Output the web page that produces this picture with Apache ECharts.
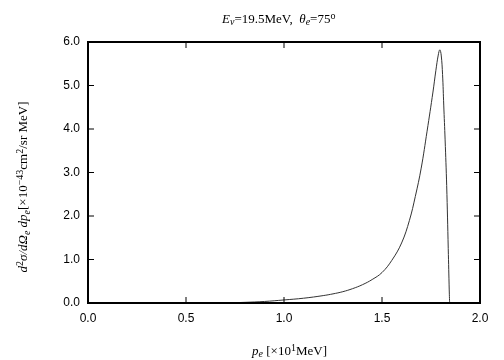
<!DOCTYPE html>
<html><head><meta charset="utf-8">
<script src="https://cdn.jsdelivr.net/npm/echarts@6/dist/echarts.min.js"></script>
<style>html,body{margin:0;padding:0;background:#fff}#c{width:504px;height:360px}</style>
</head><body><div id="c"></div>
<script>
const pe = [0.70,0.80,0.90,1.00,1.10,1.20,1.25,1.30,1.35,1.40,1.45,1.50,1.55,1.60,1.64,1.67,1.70,1.73,1.76,1.775,1.787,1.795,1.802,1.809,1.815,1.822,1.830,1.838,1.843,1.845];
const xs = [0.00,0.015,0.035,0.07,0.11,0.17,0.21,0.26,0.33,0.42,0.54,0.70,0.98,1.38,1.90,2.45,3.10,3.95,4.85,5.35,5.70,5.82,5.70,5.25,4.55,3.75,2.70,1.25,0.30,0.00];
const xTicks = [0.0,0.5,1.0,1.5,2.0];
const yTicks = [0.0,1.0,2.0,3.0,4.0,5.0,6.0];
const data = pe.map((v,i)=>[v,xs[i]]);
const chart = echarts.init(document.getElementById('c'));
const serif = 'Liberation Serif';
const rich = {
  i:{fontFamily:serif,fontStyle:'italic',fontSize:13,color:'#000'},
  n:{fontFamily:serif,fontSize:13,color:'#000'},
  sub:{fontFamily:serif,fontStyle:'italic',fontSize:10,color:'#000',padding:[6,0,0,0]},
  sup:{fontFamily:serif,fontSize:10,color:'#000',padding:[0,0,7,0]}
};
chart.setOption({
  animation:false,
  grid:{left:88,right:24,top:42,bottom:57},
  xAxis:{type:'value',min:0,max:2,interval:0.5,
    axisLine:{show:false},axisTick:{show:false},splitLine:{show:false},
    axisLabel:{fontFamily:'Liberation Sans',fontSize:12,color:'#000',margin:10,formatter:v=>v.toFixed(1)}},
  yAxis:{type:'value',min:0,max:6,interval:1,
    axisLine:{show:false},axisTick:{show:false},splitLine:{show:false},
    axisLabel:{fontFamily:'Liberation Sans',fontSize:12,color:'#000',margin:8,formatter:v=>v.toFixed(1)}},
  series:[
    {type:'line',data:data,smooth:0.4,showSymbol:false,lineStyle:{color:'#333',width:1}}
  ]
});
const p0 = chart.convertToPixel({gridIndex:0},[0,0]);
const p1 = chart.convertToPixel({gridIndex:0},[2,6]);
const els = [{type:'rect',shape:{x:p0[0],y:p1[1],width:p1[0]-p0[0],height:p0[1]-p1[1]},style:{fill:'none',stroke:'#000',lineWidth:2},z:10}];
xTicks.slice(1,-1).forEach(t=>{
  const x = chart.convertToPixel({gridIndex:0},[t,0])[0];
  els.push({type:'line',shape:{x1:x,y1:p0[1],x2:x,y2:p0[1]-6},style:{stroke:'#000',lineWidth:1},z:10});
  els.push({type:'line',shape:{x1:x,y1:p1[1],x2:x,y2:p1[1]+6},style:{stroke:'#000',lineWidth:1},z:10});
});
yTicks.slice(1,-1).forEach(t=>{
  const y = chart.convertToPixel({gridIndex:0},[0,t])[1];
  els.push({type:'line',shape:{x1:p0[0],y1:y,x2:p0[0]+6,y2:y},style:{stroke:'#000',lineWidth:1},z:10});
  els.push({type:'line',shape:{x1:p1[0],y1:y,x2:p1[0]-6,y2:y},style:{stroke:'#000',lineWidth:1},z:10});
});
chart.setOption({graphic:[
    {type:'text',left:222,top:11,style:{text:'{i|E}{sub|ν}{n|=19.5MeV,  }{i|θ}{sub|e}{n|=75}{sup|o}',rich:rich}},
    {type:'text',left:252,top:343,style:{text:'{i|p}{sub|e} {n|[×10}{sup|1}{n|MeV]}',rich:rich}},
    {type:'text',x:24,y:187,rotation:Math.PI/2,style:{text:'{i|d}{sup|2}{i|σ/dΩ}{sub|e}{i| dp}{sub|e}{n|[×10}{sup|−43}{n|cm}{sup|2}{n|/sr MeV]}',rich:rich,align:'center',verticalAlign:'middle'}}
  ].concat(els)});
</script></body></html>
